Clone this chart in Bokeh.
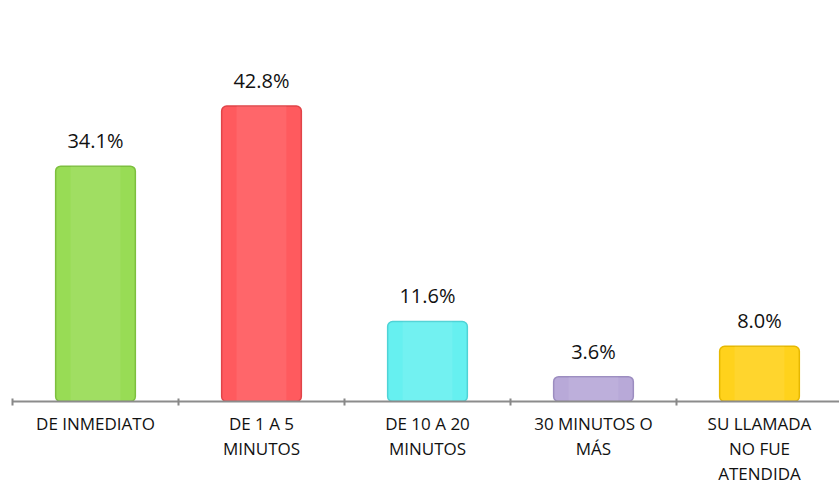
from bokeh.plotting import figure
from bokeh.models import ColumnDataSource, Range1d, FixedTicker, LabelSet
from bokeh.core.properties import value
from bokeh.embed import file_html
from bokeh.resources import INLINE

categories = ["DE INMEDIATO", "DE 1 A 5\nMINUTOS", "DE 10 A 20\nMINUTOS",
              "30 MINUTOS O\nMÁS", "SU LLAMADA\nNO FUE\nATENDIDA"]
values = [34.1, 42.8, 11.6, 3.6, 8.0]
colors = ["#98DC55", "#FF5A5E", "#66F0F0", "#B8A9D8", "#FFD21C"]
edges = ["#7DBF3E", "#E04448", "#4FD3D6", "#9C8DC0", "#E6B800"]

xs = [i + 0.5 for i in range(len(categories))]
labels = [f"{v:.1f}%" for v in values]

src = ColumnDataSource(dict(x=xs, top=values, color=colors, edge=edges, label=labels))

p = figure(frame_width=827, frame_height=343, output_backend="svg", toolbar_location=None,
           x_range=Range1d(0, 4.982), y_range=Range1d(0, 49.7),
           min_border_left=12, min_border_right=0, min_border_top=58, min_border_bottom=0)
p.outline_line_color = None
p.xgrid.grid_line_color = None
p.ygrid.grid_line_color = None
p.yaxis.visible = False

p.vbar(x="x", top="top", width=0.48, bottom=0, source=src,
       fill_color="color", line_color="edge", line_width=1.5, border_radius=5)
p.vbar(x="x", top="top", width=0.30, bottom=0, source=src,
       fill_color="white", fill_alpha=0.08, line_color=None)

lbl = LabelSet(x="x", y="top", text="label", source=src, text_align="center",
               text_baseline="bottom", y_offset=12, text_font=value("Open Sans"),
               text_font_size="20px", text_color="#111111")
p.add_layout(lbl)

ax = p.xaxis[0]
ax.ticker = FixedTicker(ticks=xs, minor_ticks=list(range(len(categories) + 1)))
ax.major_label_overrides = {x: c for x, c in zip(xs, categories)}
ax.major_tick_in = 0
ax.major_tick_out = 0
ax.minor_tick_in = 3
ax.minor_tick_out = 4
ax.minor_tick_line_color = "#888888"
ax.minor_tick_line_width = 2
ax.axis_line_color = "#8C8C8C"
ax.axis_line_width = 2
ax.major_label_text_font = "Open Sans"
ax.major_label_text_font_size = "17px"
ax.major_label_text_color = "#111111"
ax.major_label_text_line_height = 1.1
ax.major_label_standoff = 6

open("out.html", "w").write(file_html(p, INLINE))
